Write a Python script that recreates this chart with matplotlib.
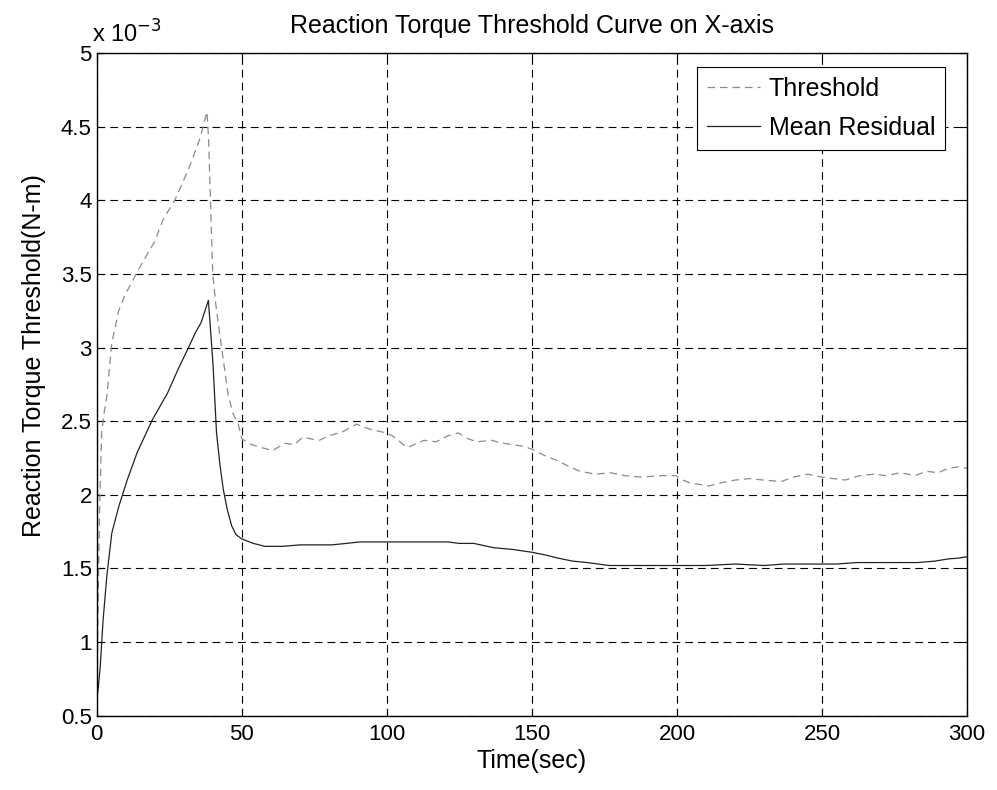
import matplotlib
matplotlib.use("Agg")
import matplotlib.pyplot as plt
from matplotlib.ticker import FuncFormatter

plt.rcParams['font.family'] = ['Liberation Sans', 'DejaVu Sans']

# -------------------- data (values in units of 1e-3 N-m) --------------------
t_threshold = [0, 0.5, 1, 1.7, 2.5, 3.5, 5.2, 7.6, 9.6, 13.6, 17, 20, 22.9, 26.9,
               29.2, 32, 35.6, 38, 38.6, 39.2, 40, 41, 42, 43.6, 45.3, 47, 48.8,
               50, 53.5, 57, 60.5, 65, 68, 71, 76.7, 80, 85, 89.5, 92, 95, 100,
               102, 107, 112.8, 117, 121, 124.6, 128, 131, 136, 140, 143.6, 147,
               150, 154, 159, 163, 166.5, 172, 177, 182, 188, 194, 199.6, 202,
               204.6, 208, 211, 215, 220, 225, 230, 236, 240, 245, 250, 254, 258,
               263, 268, 272, 277, 282, 286, 290, 293.6, 297, 300]
threshold = [0.6, 1.3, 1.9, 2.42, 2.55, 2.67, 3.03, 3.25, 3.35, 3.5, 3.62, 3.72,
             3.87, 4.0, 4.1, 4.23, 4.42, 4.6, 4.4, 4.0, 3.5, 3.3, 3.15, 2.92,
             2.68, 2.55, 2.48, 2.38, 2.34, 2.32, 2.30, 2.35, 2.34, 2.39, 2.37,
             2.40, 2.43, 2.48, 2.46, 2.44, 2.42, 2.40, 2.32, 2.37, 2.36, 2.40,
             2.42, 2.38, 2.36, 2.37, 2.35, 2.34, 2.33, 2.31, 2.27, 2.23, 2.19,
             2.16, 2.14, 2.15, 2.13, 2.12, 2.13, 2.13, 2.10, 2.08, 2.07, 2.06,
             2.08, 2.10, 2.11, 2.10, 2.09, 2.12, 2.14, 2.12, 2.11, 2.10, 2.13,
             2.14, 2.13, 2.15, 2.13, 2.16, 2.15, 2.18, 2.19, 2.18]

t_residual = [0, 0.6, 1.2, 2.2, 3.5, 5.2, 7.6, 10.5, 14, 19.2, 24.4, 28, 31.4, 34,
              36, 38.5, 39.3, 40.1, 41.3, 42.5, 43.6, 45, 46.5, 48, 50, 54, 58,
              64, 70, 75, 81, 86, 90.7, 95, 100, 105, 110, 115, 121, 125, 130,
              137, 143, 150, 155, 159, 164, 169, 176.7, 185, 193, 200, 210, 220,
              230, 237, 245, 255, 262, 268, 276, 283, 289, 293.6, 297, 300]
residual = [0.6, 0.7, 0.83, 1.15, 1.45, 1.74, 1.92, 2.10, 2.29, 2.51, 2.69, 2.85,
            2.99, 3.1, 3.17, 3.32, 3.1, 2.88, 2.42, 2.2, 2.04, 1.9, 1.79, 1.73,
            1.70, 1.67, 1.65, 1.65, 1.66, 1.66, 1.66, 1.67, 1.68, 1.68, 1.68,
            1.68, 1.68, 1.68, 1.68, 1.67, 1.67, 1.64, 1.63, 1.61, 1.59, 1.57,
            1.55, 1.54, 1.52, 1.52, 1.52, 1.52, 1.52, 1.53, 1.52, 1.53, 1.53,
            1.53, 1.54, 1.54, 1.54, 1.54, 1.55, 1.565, 1.57, 1.58]

x_ticks = [0, 50, 100, 150, 200, 250, 300]
y_ticks = [0.5, 1, 1.5, 2, 2.5, 3, 3.5, 4, 4.5, 5]

FS_TICK = 16
FS = 18

# -------------------- figure --------------------
fig = plt.figure(figsize=(9.97, 7.90), dpi=100)
ax = fig.add_axes([0.097, 0.094, 0.873, 0.839])

ax.plot(t_threshold, threshold, color='#8a8a8a', linestyle=(0, (6, 4)),
        linewidth=0.9, label='Threshold')
ax.plot(t_residual, residual, color='#222222', linestyle='-',
        linewidth=0.9, label='Mean Residual')

ax.set_xlim(0, 300)
ax.set_ylim(0.5, 5)
ax.set_xticks(x_ticks)
ax.set_yticks(y_ticks)
ax.yaxis.set_major_formatter(FuncFormatter(lambda v, p: '%g' % v))
ax.tick_params(direction='in', top=True, right=True, labelsize=FS_TICK,
               length=5, width=0.8)
ax.tick_params(axis='x', pad=6)
ax.grid(True, color='black', linestyle=(0, (7, 4.5)), linewidth=0.8)
for s in ax.spines.values():
    s.set_linewidth(1.0)

ax.set_title('Reaction Torque Threshold Curve on X-axis', fontsize=FS, pad=14)
ax.set_xlabel('Time(sec)', fontsize=FS, labelpad=3)
ax.set_ylabel('Reaction Torque Threshold(N-m)', fontsize=FS, ha='left')
ax.yaxis.set_label_coords(-0.058, 0.27)

# exponent label (MATLAB style)
fig.text(0.092, 0.957, r'x 10$^{-3}$', fontsize=17, ha='left', va='center')

leg = ax.legend(loc='upper right', bbox_to_anchor=(0.9747, 0.979), fontsize=FS,
                frameon=True, fancybox=False, framealpha=1, edgecolor='black',
                handlelength=2.1, handletextpad=0.36, borderpad=0.4,
                labelspacing=0.6, borderaxespad=0)
leg.get_frame().set_linewidth(0.8)

fig.savefig('out.png', dpi=100)
